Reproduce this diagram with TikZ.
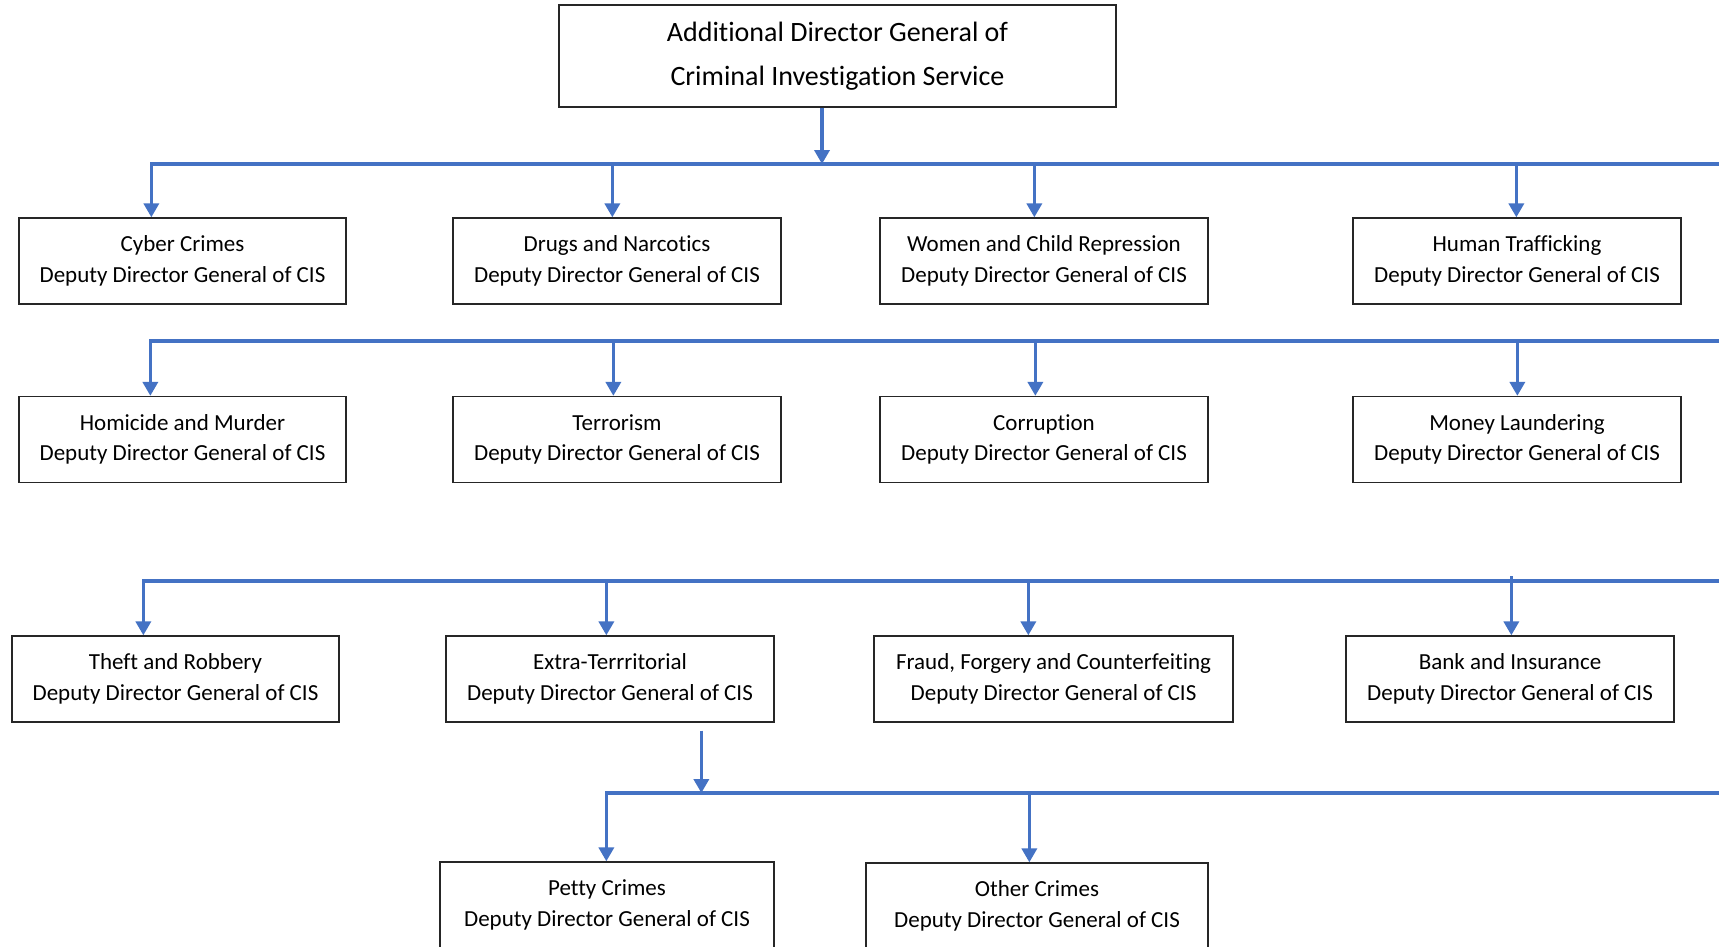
\documentclass[tikz,border=0pt]{standalone}
\usepackage{fontspec}
\setmainfont{Carlito}[Ligatures={NoCommon,NoRare}]
\usetikzlibrary{arrows.meta}
\definecolor{busblue}{HTML}{4472C4}
\begin{document}
\begin{tikzpicture}[x=1pt,y=-1pt,
  box/.style={draw=black!85,line width=1.3pt,inner sep=0pt,minimum height=86pt,align=center,font=\fontsize{23}{30.5}\selectfont},
  bus/.style={busblue,line width=4.7pt},
  arr/.style={busblue,line width=3.6pt,-{Triangle[width=15pt,length=14pt]}}]
\clip (0,0) rectangle (1719,946);
\fill[white] (0,0) rectangle (1719,946);

% top
\node[box,minimum width=557pt,minimum height=102pt,font=\fontsize{28}{44}\selectfont] (top) at (837.5,56) {Additional Director General of\\Criminal Investigation Service};

% row 1
\node[box,minimum width=327pt] (cyber) at (182.5,261) {Cyber Crimes\\Deputy Director General of CIS};
\node[box,minimum width=328pt] (drugs) at (617,261) {Drugs and Narcotics\\Deputy Director General of CIS};
\node[box,minimum width=328pt] (women) at (1044,261) {Women and Child Repression\\Deputy Director General of CIS};
\node[box,minimum width=328pt] (human) at (1517,261) {Human Trafficking\\Deputy Director General of CIS};

% row 2
\node[box,minimum width=327pt] (homicide) at (182.5,439.5) {Homicide and Murder\\Deputy Director General of CIS};
\node[box,minimum width=328pt] (terror) at (617,439.5) {Terrorism\\Deputy Director General of CIS};
\node[box,minimum width=328pt] (corrupt) at (1044,439.5) {Corruption\\Deputy Director General of CIS};
\node[box,minimum width=328pt] (money) at (1517,439.5) {Money Laundering\\Deputy Director General of CIS};

% row 3
\node[box,minimum width=327pt] (theft) at (175.5,679) {Theft and Robbery\\Deputy Director General of CIS};
\node[box,minimum width=328pt] (extra) at (610,679) {Extra-Terrritorial\\Deputy Director General of CIS};
\node[box,minimum width=359pt] (fraud) at (1053.5,679) {Fraud, Forgery and Counterfeiting\\Deputy Director General of CIS};
\node[box,minimum width=328pt] (bank) at (1510,679) {Bank and Insurance\\Deputy Director General of CIS};

% row 4
\node[box,minimum width=334pt] (petty) at (607,905) {Petty Crimes\\Deputy Director General of CIS};
\node[box,minimum width=342pt] (other) at (1037,906) {Other Crimes\\Deputy Director General of CIS};

% buses
\coordinate (b1s) at (150,164); \coordinate (b1e) at (1719,164);
\coordinate (b2s) at (149,341); \coordinate (b2e) at (1719,341);
\coordinate (b3s) at (142,581); \coordinate (b3e) at (1719,581);
\coordinate (b4s) at (605,793); \coordinate (b4e) at (1719,793);
\draw[bus] (b1s) -- (b1e);
\draw[bus] (b2s) -- (b2e);
\draw[bus] (b3s) -- (b3e);
\draw[bus] (b4s) -- (b4e);

% entry points
\coordinate (topout) at ([xshift=-15.5pt]top.south);
\coordinate (cyberin) at ([xshift=133pt]cyber.north west);
\coordinate (drugsin) at ([xshift=160pt]drugs.north west);
\coordinate (womenin) at ([xshift=155pt]women.north west);
\coordinate (humanin) at ([xshift=164pt]human.north west);
\coordinate (homicidein) at ([xshift=132pt]homicide.north west);
\coordinate (terrorin) at ([xshift=161pt]terror.north west);
\coordinate (corruptin) at ([xshift=156pt]corrupt.north west);
\coordinate (moneyin) at ([xshift=165pt]money.north west);
\coordinate (theftin) at ([xshift=132pt]theft.north west);
\coordinate (extrain) at ([xshift=161pt]extra.north west);
\coordinate (fraudin) at ([xshift=155pt]fraud.north west);
\coordinate (bankin) at ([xshift=166pt]bank.north west);
\coordinate (extraout) at ([xshift=256pt,yshift=-8pt]extra.south west);
\coordinate (pettyin) at ([xshift=167pt]petty.north west);
\coordinate (otherin) at ([xshift=164pt]other.north west);

% arrows
\draw[arr] (topout) -- (topout |- b1s);
\draw[arr] (cyberin |- b1s) -- (cyberin);
\draw[arr] (drugsin |- b1s) -- (drugsin);
\draw[arr] (womenin |- b1s) -- (womenin);
\draw[arr] (humanin |- b1s) -- (humanin);
\draw[arr] (homicidein |- b2s) -- (homicidein);
\draw[arr] (terrorin |- b2s) -- (terrorin);
\draw[arr] (corruptin |- b2s) -- (corruptin);
\draw[arr] (moneyin |- b2s) -- (moneyin);
\draw[arr] (theftin |- b3s) -- (theftin);
\draw[arr] (extrain |- b3s) -- (extrain);
\draw[arr] (fraudin |- b3s) -- (fraudin);
\draw[arr] ([yshift=5pt]bankin |- b3s) -- (bankin);
\draw[arr] (extraout) -- (extraout |- b4s);
\draw[arr] (pettyin |- b4s) -- (pettyin);
\draw[arr] (otherin |- b4s) -- (otherin);
\end{tikzpicture}
\end{document}
